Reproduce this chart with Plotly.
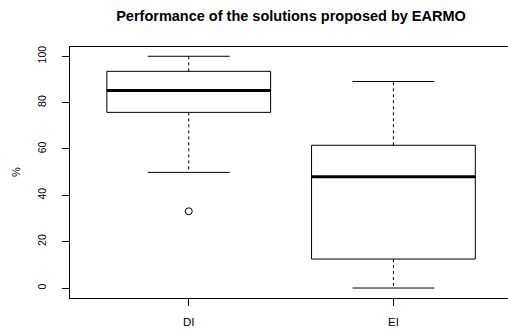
import plotly.graph_objects as go

groups = ["DI", "EI"]
positions = [1, 2]
q1 = [75.8, 12.5]
median = [85.2, 48.0]
q3 = [93.5, 61.6]
lower_whisker = [49.9, 0.0]
upper_whisker = [100.0, 89.1]
outlier_pos = [1]
outlier_vals = [33.1]

y_ticks = [0, 20, 40, 60, 80, 100]

FONT = "Liberation Sans, Arial, Helvetica, sans-serif"
box_half = 0.4
staple_half = 0.2

fig = go.Figure()

for i, p in enumerate(positions):
    # dashed whiskers
    fig.add_trace(go.Scatter(x=[p, p, None, p, p],
                             y=[q3[i], upper_whisker[i], None, q1[i], lower_whisker[i]],
                             mode="lines", line=dict(color="black", width=1, dash="3px,3px"),
                             hoverinfo="skip", showlegend=False))
    # staples
    fig.add_trace(go.Scatter(x=[p - staple_half, p + staple_half, None, p - staple_half, p + staple_half],
                             y=[upper_whisker[i], upper_whisker[i], None, lower_whisker[i], lower_whisker[i]],
                             mode="lines", line=dict(color="black", width=1),
                             hoverinfo="skip", showlegend=False))
    # box
    fig.add_trace(go.Box(x=[p], q1=[q1[i]], median=[median[i]], q3=[q3[i]],
                         lowerfence=[q1[i]], upperfence=[q3[i]],
                         width=2 * box_half, whiskerwidth=0,
                         fillcolor="white", line=dict(color="black", width=1),
                         boxpoints=False, showlegend=False, name=groups[i]))
    # thick median
    fig.add_trace(go.Scatter(x=[p - box_half, p + box_half], y=[median[i], median[i]],
                             mode="lines", line=dict(color="black", width=3),
                             hoverinfo="skip", showlegend=False))

fig.add_trace(go.Scatter(x=outlier_pos, y=outlier_vals, mode="markers",
                         marker=dict(symbol="circle-open", size=7, color="black", line=dict(width=1)),
                         showlegend=False))

fig.update_layout(
    width=508, height=330,
    margin=dict(l=70, r=0, t=47, b=32),
    paper_bgcolor="white", plot_bgcolor="white",
    font=dict(family=FONT, size=11, color="black"),
    title=dict(text="<b>Performance of the solutions proposed by EARMO</b>",
               x=291 / 508, xref="container", xanchor="center",
               y=1 - 16 / 330, yref="container", yanchor="middle",
               font=dict(size=14.5, family=FONT, color="black")),
    xaxis=dict(range=[0.42, 0.42 + 438 / 204.7], tickvals=positions, ticktext=groups,
               showgrid=False, zeroline=False, showline=True, mirror=True,
               linecolor="black", linewidth=1, ticks="outside", ticklen=7,
               tickcolor="black", ticklabelstandoff=6, tickfont=dict(size=11.5)),
    yaxis=dict(range=[-4.3, 104], tickvals=y_ticks, showgrid=False, zeroline=False,
               showline=True, linecolor="black", linewidth=1, ticks="outside",
               ticklen=7, tickcolor="black", tickangle=-90, ticklabelstandoff=12,
               tickfont=dict(size=10.5)),
    annotations=[dict(text="%", textangle=-90, showarrow=False, font=dict(size=11),
                      xref="paper", yref="paper",
                      x=(16 - 70) / 438, y=(330 - 32 - 172) / 251,
                      xanchor="center", yanchor="middle")],
)

fig.write_html("out.html", post_script="document.body.style.margin='0';",
               config={"displayModeBar": False})
